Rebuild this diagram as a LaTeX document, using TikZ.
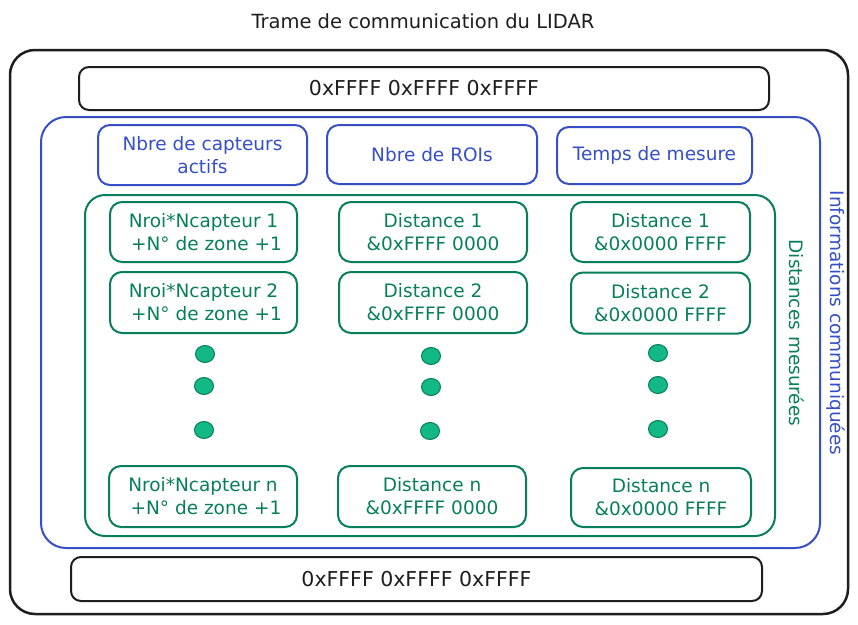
\documentclass[tikz,border=0pt]{standalone}
\usepackage{fontspec}
\setmainfont{DejaVu Sans}
\usetikzlibrary{shapes.geometric}
\definecolor{ink}{HTML}{1E1E1E}
\definecolor{bleu}{HTML}{364FC7}
\definecolor{vert}{HTML}{087F5B}
\definecolor{vertclair}{HTML}{12B886}
\begin{document}
\begin{tikzpicture}[x=1pt,y=-1pt,
  txt/.style={font=\fontsize{18.5}{23}\selectfont, align=center, inner sep=0pt},
  hexfont/.style={font=\fontsize{20.5}{23}\selectfont},
  blackbox/.style={draw=ink, line width=2pt, rounded corners=10pt, inner sep=0pt, text=ink, txt},
  bluebox/.style={draw=bleu, line width=2pt, rounded corners=12pt, inner sep=0pt, text=bleu, txt},
  greenbox/.style={draw=vert, line width=2pt, rounded corners=12pt, inner sep=0pt, text=vert, txt},
  dot/.style={ellipse, draw=vert, line width=1pt, fill=vertclair, minimum width=19pt, minimum height=17pt, inner sep=0pt},
  container/.style={line width=2pt, rounded corners=25pt}]
\useasboundingbox (0,0) rectangle (858,624);
\fill[white] (0,0) rectangle (858,624);
% title
\node[txt, text=ink, font=\fontsize{19.5}{23}\selectfont] (title) at (423,21) {Trame de communication du LIDAR};
% outer frame
\draw[container, draw=ink, line width=2.5pt] (10,50) rectangle (848,614);
% header / footer
\node[blackbox, hexfont, minimum width=690pt, minimum height=43pt] (head) at (424,88.5) {0xFFFF 0xFFFF 0xFFFF};
\node[blackbox, hexfont, minimum width=691pt, minimum height=44pt] (foot) at (416.5,579) {0xFFFF 0xFFFF 0xFFFF};
% blue container
\draw[container, draw=bleu] (41,117) rectangle (820,548);
\node[txt, text=bleu, rotate=-90] (infolab) at (836,323) {Informations communiquées};
\node[bluebox, minimum width=209pt, minimum height=60pt] (nbcap) at (202.5,155) {Nbre de capteurs\\actifs};
\node[bluebox, minimum width=210pt, minimum height=59pt] (nbroi) at (432,154.5) {Nbre de ROIs};
\node[bluebox, minimum width=195pt, minimum height=57pt] (temps) at (654.5,155.5) {Temps de mesure};
% green container
\draw[container, draw=vert, line width=2pt, rounded corners=20pt] (85,195) rectangle (775,536);
\node[txt, text=vert, rotate=-90] (distlab) at (797,333) {Distances mesurées};
% row 1
\node[greenbox, minimum width=187pt, minimum height=60pt] (z1) at (203.5,232) {Nroi*Ncapteur 1\\\ +N° de zone +1};
\node[greenbox, minimum width=188pt, minimum height=60pt] (a1) at (433,232) {Distance 1\\\&0xFFFF 0000};
\node[greenbox, minimum width=179pt, minimum height=60pt] (b1) at (660.5,232) {Distance 1\\\&0x0000 FFFF};
% row 2
\node[greenbox, minimum width=187pt, minimum height=61pt] (z2) at (203.5,302.5) {Nroi*Ncapteur 2\\\ +N° de zone +1};
\node[greenbox, minimum width=188pt, minimum height=61pt] (a2) at (433,302.5) {Distance 2\\\&0xFFFF 0000};
\node[greenbox, minimum width=179pt, minimum height=61pt] (b2) at (660.5,303) {Distance 2\\\&0x0000 FFFF};
% dots
\node[dot] (zd1) at (205,354) {};
\node[dot] (zd2) at (204,386) {};
\node[dot] (zd3) at (204,430) {};
\node[dot] (ad1) at (431,356) {};
\node[dot] (ad2) at (431,387) {};
\node[dot] (ad3) at (430,431) {};
\node[dot] (bd1) at (658,353) {};
\node[dot] (bd2) at (658,385) {};
\node[dot] (bd3) at (658,429) {};
% row n
\node[greenbox, minimum width=188pt, minimum height=61pt] (zn) at (203,496.5) {Nroi*Ncapteur n\\\ +N° de zone +1};
\node[greenbox, minimum width=188pt, minimum height=61pt] (an) at (432,496.5) {Distance n\\\&0xFFFF 0000};
\node[greenbox, minimum width=180pt, minimum height=59pt] (bn) at (661,497.5) {Distance n\\\&0x0000 FFFF};
\end{tikzpicture}
\end{document}
